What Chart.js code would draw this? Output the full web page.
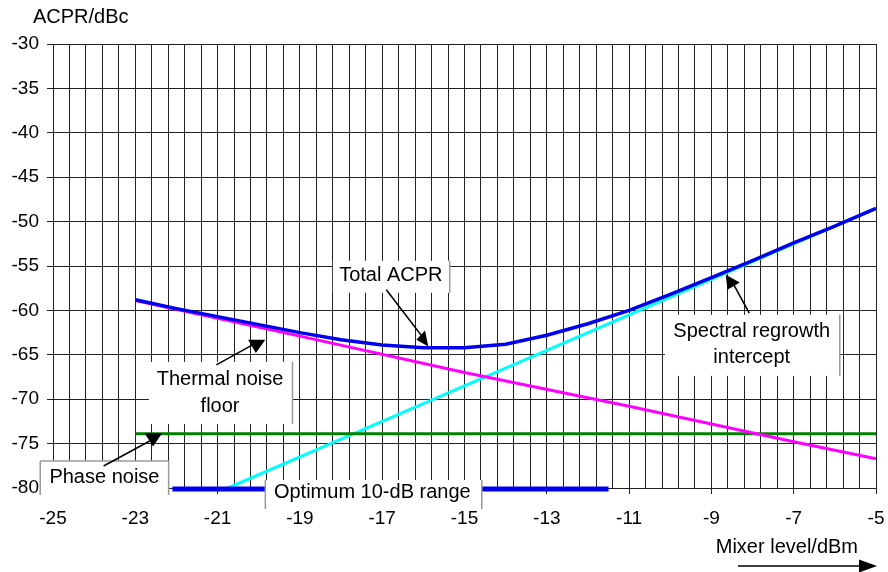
<!DOCTYPE html>
<html><head><meta charset="utf-8">
<script src="https://cdn.jsdelivr.net/npm/chart.js@4/dist/chart.umd.min.js"></script>
<style>html,body{margin:0;padding:0;background:#fff}#wrap{width:888px;height:572px;position:relative}</style>
</head><body><div id="wrap"><canvas id="c" width="888" height="572"></canvas></div>
<script>
// ---- data ----
const xTickLabels = ['-25','-23','-21','-19','-17','-15','-13','-11','-9','-7','-5'];
const totalX = [-23,-22,-21,-20,-19,-18,-17,-16,-15,-14,-13,-12,-11,-10,-9,-8,-7,-6,-5];
const totalY = [-58.8,-59.8,-60.7,-61.6,-62.5,-63.3,-63.9,-64.2,-64.2,-63.8,-62.8,-61.5,-60.0,-58.2,-56.3,-54.4,-52.4,-50.5,-48.5];
const thermalX = [-23,-19,-15,-11,-7,-5];
const thermalY = [-58.9,-62.9,-67.0,-70.8,-74.8,-76.7];
const regrowthX = [-20.75,-19,-17,-15,-13,-11,-9,-7,-5];
const regrowthY = [-80,-76.5,-72.5,-68.5,-64.5,-60.5,-56.5,-52.5,-48.5];
const phaseX = [-23,-5];
const phaseY = [-73.9,-73.9];
const optimumX = [-22.1,-11.5];
const optimumY = [-80.1,-80.1];

const pts = (xs, ys) => xs.map((v, i) => ({x: v, y: ys[i]}));
const FONT = '"Liberation Sans", Arial, sans-serif';
const GRID = '#222';

// ---- annotation layout (data units) ----
const boxes = [
  {x0:-18.20, x1:-15.36, y0:-54.41, y1:-58.02, sides:'r', cx:-16.79, lines:['Total ACPR'], base:[-56.74]},
  {x0:-22.67, x1:-19.18, y0:-65.80, y1:-72.79, sides:'r', cx:-20.94, lines:['Thermal noise','floor'], base:[-68.39,-71.43]},
  {x0:-10.13, x1:-5.88, y0:-60.50, y1:-67.37, sides:'r', cx:-8.02, lines:['Spectral regrowth','intercept'], base:[-63.01,-65.94]},
  {x0:-25.31, x1:-22.19, y0:-76.96, y1:-80.79, sides:'ltr', cx:-23.75, lines:['Phase noise'], base:[-79.49]},
  {x0:-19.84, x1:-14.58, y0:-79.10, y1:-82.37, sides:'lr', cx:-17.24, lines:['Optimum 10-dB range'], base:[-81.09]}
];
const arrows = [
  {from:[-23.77,-77.52], to:[-22.65,-74.70], head:[[-22.77,-73.83],[-22.35,-73.83],[-22.57,-75.34]]},
  {from:[-21.03,-66.13], to:[-20.15,-63.88], head:[[-20.26,-63.31],[-19.84,-63.31],[-20.07,-64.81]]},
  {from:[-16.90,-57.68], to:[-16.04,-62.87], head:[[-16.17,-63.31],[-15.88,-64.07],[-15.96,-62.26]]},
  {from:[-8.08,-60.30], to:[-8.48,-56.89], head:[[-8.65,-55.99],[-8.61,-57.68],[-8.31,-56.85]]}
];

const annot = {
  id: 'annot',
  afterDatasetsDraw(chart) {
    const {ctx, scales: {x, y}} = chart;
    const X = v => x.getPixelForValue(v), Y = v => y.getPixelForValue(v);
    ctx.save();
    boxes.forEach(b => {
      const l = X(b.x0), r = X(b.x1), t = Y(b.y0), bt = Y(b.y1);
      ctx.fillStyle = '#fff';
      ctx.fillRect(l, t, r - l, bt - t);
      ctx.strokeStyle = '#9a9a9a';
      ctx.lineWidth = 1.5;
      ctx.beginPath();
      if (b.sides.includes('l')) { ctx.moveTo(l, t); ctx.lineTo(l, bt); }
      if (b.sides.includes('t')) { ctx.moveTo(l, t); ctx.lineTo(r, t); }
      if (b.sides.includes('r')) { ctx.moveTo(r, t); ctx.lineTo(r, bt); }
      ctx.stroke();
      ctx.fillStyle = '#000';
      ctx.font = '20px ' + FONT;
      ctx.textAlign = 'center';
      ctx.textBaseline = 'alphabetic';
      b.lines.forEach((s, i) => ctx.fillText(s, X(b.cx), Y(b.base[i])));
    });
    arrows.forEach(a => {
      ctx.strokeStyle = '#000';
      ctx.lineWidth = 1.6;
      ctx.beginPath();
      ctx.moveTo(X(a.from[0]), Y(a.from[1]));
      ctx.lineTo(X(a.to[0]), Y(a.to[1]));
      ctx.stroke();
      ctx.fillStyle = '#000';
      ctx.beginPath();
      a.head.forEach((p, i) => i ? ctx.lineTo(X(p[0]), Y(p[1])) : ctx.moveTo(X(p[0]), Y(p[1])));
      ctx.closePath();
      ctx.fill();
    });
    ctx.fillStyle = '#000';
    ctx.font = '20px ' + FONT;
    ctx.textAlign = 'left';
    ctx.textBaseline = 'alphabetic';
    ctx.fillText('ACPR/dBc', 33, 23);
    ctx.textAlign = 'right';
    ctx.fillText('Mixer level/dBm', 858, 553);
    ctx.strokeStyle = '#000';
    ctx.lineWidth = 1.6;
    ctx.beginPath();
    ctx.moveTo(738, 566); ctx.lineTo(862, 566);
    ctx.stroke();
    ctx.beginPath();
    ctx.moveTo(859, 559.5); ctx.lineTo(877, 566); ctx.lineTo(859, 572.5); ctx.closePath();
    ctx.fill();
    ctx.restore();
  }
};

const line = (data, color, w) => ({data, borderColor: color, borderWidth: w, pointRadius: 0, tension: 0, fill: false, clip: false});

new Chart(document.getElementById('c'), {
  type: 'line',
  data: {
    datasets: [
      line(pts(totalX, totalY), '#0000ee', 3.5),
      line(pts(optimumX, optimumY), '#0000ee', 5),
      line(pts(thermalX, thermalY), '#ff00ff', 3),
      line(pts(phaseX, phaseY), '#008000', 3),
      line(pts(regrowthX, regrowthY), '#00ffff', 3)
    ]
  },
  options: {
    responsive: false,
    animation: false,
    events: [],
    layout: {padding: {top: 44, right: 12, left: 0, bottom: 0}},
    plugins: {legend: {display: false}, tooltip: {enabled: false}},
    scales: {
      x: {
        type: 'linear', min: -25, max: -5,
        afterFit: s => { s.height = 84; s.paddingLeft = 0; s.paddingRight = 0; },
        border: {display: true, color: GRID, width: 1},
        grid: {color: GRID, lineWidth: 1, tickLength: 6,
               tickColor: c => (c.index % 5 === 0 ? GRID : 'rgba(0,0,0,0)')},
        ticks: {stepSize: 0.4, autoSkip: false, maxRotation: 0, minRotation: 0, padding: 13,
                color: '#000', font: {family: FONT, size: 19},
                callback: (v, i) => (i % 5 === 0 ? xTickLabels[i / 5] : '')}
      },
      y: {
        type: 'linear', min: -80, max: -30,
        afterFit: s => { s.width = 53; s.paddingTop = 0; s.paddingBottom = 0; },
        border: {display: true, color: GRID, width: 1},
        grid: {color: GRID, lineWidth: 1, tickLength: 6, tickColor: GRID},
        ticks: {stepSize: 5, padding: 8, color: '#000', font: {family: FONT, size: 19},
                callback: v => String(v)}
      }
    }
  },
  plugins: [annot]
});
</script></body></html>
